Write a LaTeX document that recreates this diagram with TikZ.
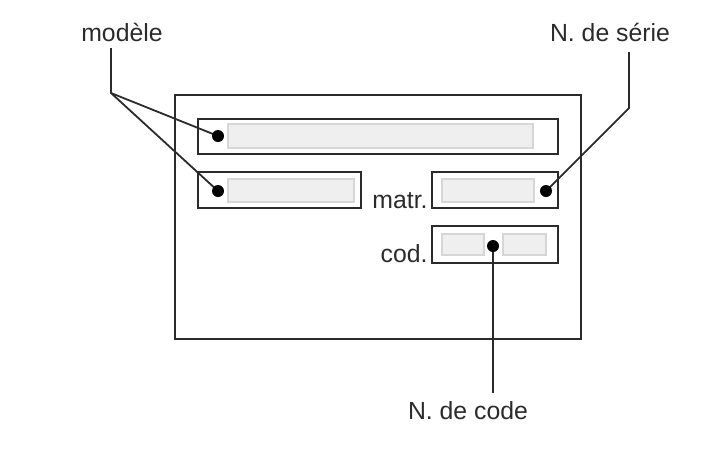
\documentclass[tikz,border=0pt]{standalone}
\usepackage{fontspec}
\setmainfont{Liberation Sans}
\definecolor{ink}{HTML}{2B2B2B}
\definecolor{fieldfill}{HTML}{EFEFEF}
\definecolor{fieldline}{HTML}{D6D6D6}
\begin{document}
\begin{tikzpicture}[x=0.5pt,y=-0.5pt,
  outerbox/.style={draw=ink,line width=1.1pt,inner sep=0pt,rectangle},
  fieldbox/.style={draw=fieldline,fill=fieldfill,line width=0.9pt,inner sep=0pt,rectangle},
  lbl/.style={text=ink,font=\fontsize{12.4}{14}\selectfont,inner sep=0pt},
  leader/.style={draw=ink,line width=0.9pt},
  dotmark/.style={fill=black}]
\useasboundingbox (0,0) rectangle (704,462);
% frame
\node[outerbox,minimum width=203pt,minimum height=122pt] (frame) at (378,217) {};
% top field
\node[outerbox,minimum width=180pt,minimum height=17.5pt] (f1) at (378,136.5) {};
\node[fieldbox,minimum width=152.5pt,minimum height=12pt] (g1) at (380.5,136) {};
% row 2 left
\node[outerbox,minimum width=81.5pt,minimum height=18pt] (f2) at (279.5,190) {};
\node[fieldbox,minimum width=63pt,minimum height=11.5pt] (g2) at (291,190.5) {};
% row 2 right
\node[outerbox,minimum width=63pt,minimum height=18pt] (f3) at (495,190) {};
\node[fieldbox,minimum width=46pt,minimum height=11.5pt] (g3) at (488,190.5) {};
% code box
\node[outerbox,minimum width=63pt,minimum height=18.5pt] (f4) at (495,244.5) {};
\node[fieldbox,minimum width=21pt,minimum height=10.5pt] (g4a) at (463,244.5) {};
\node[fieldbox,minimum width=21.5pt,minimum height=10.5pt] (g4b) at (524.5,244.5) {};
% labels
\node[lbl,anchor=base east] (matr) at (428,208) {matr.};
\node[lbl,anchor=base east] (cod) at (428,262) {cod.};
\node[lbl] (modele) at (122,32) {modèle};
\node[lbl] (serie) at (610,32) {N. de série};
\node[lbl] (code) at (468,411) {N. de code};
% dots
\coordinate (d1) at (218,136);
\coordinate (d2) at (218,191);
\coordinate (d3) at (546,191);
\coordinate (d4) at (493,246);
% leader bends
\coordinate (m0) at (111,48);
\coordinate (m1) at (111,93);
\coordinate (s0) at (629,52);
\coordinate (s1) at (629,108);
\coordinate (c0) at (493,393);
\draw[leader] (m0) -- (m1) -- (d1);
\draw[leader] (m1) -- (d2);
\draw[leader] (s0) -- (s1) -- (d3);
\draw[leader] (d4) -- (c0);
\foreach \d in {d1,d2,d3,d4} \fill[dotmark] (\d) circle (3pt);
\end{tikzpicture}
\end{document}
